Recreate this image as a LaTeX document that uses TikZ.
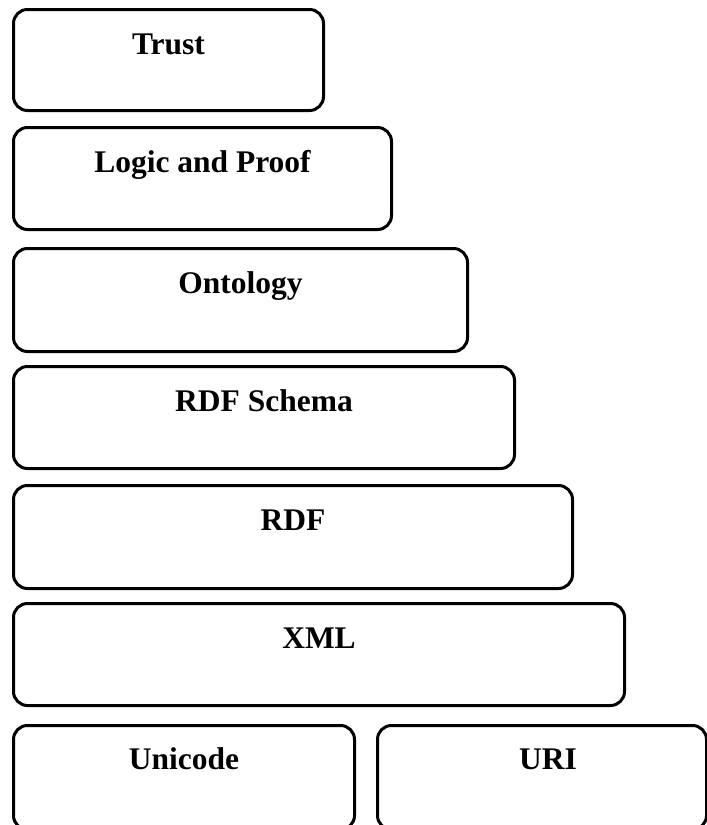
\documentclass[tikz,border=0pt]{standalone}
\usepackage{fontspec}
\setmainfont{Liberation Serif}
\begin{document}
\begin{tikzpicture}[x=1pt,y=-1pt,
  layer/.style={draw=black, line width=3pt, rounded corners=14pt,
    inner sep=0pt, anchor=north west},
  lbl/.style={font=\fontsize{31.5}{36}\selectfont\bfseries, anchor=base, inner sep=0pt}]
  \useasboundingbox (0,0) rectangle (707,825);
  \clip (0,0) rectangle (707,825);
  % layer stack, top to bottom: (left,top) and size
  \node[layer, minimum width=310pt, minimum height=101pt] (trust) at (12,8) {};
  \node[layer, minimum width=378pt, minimum height=102pt] (logic) at (12,126) {};
  \node[layer, minimum width=454pt, minimum height=103pt] (onto) at (12,247) {};
  \node[layer, minimum width=501pt, minimum height=102pt] (rdfs) at (12,365) {};
  \node[layer, minimum width=559pt, minimum height=103pt] (rdf) at (12,484) {};
  \node[layer, minimum width=611pt, minimum height=102pt] (xml) at (12,602) {};
  \node[layer, minimum width=341pt, minimum height=104pt] (unicode) at (12,724) {};
  \node[layer, minimum width=329pt, minimum height=104pt] (uri) at (376,724) {};
  % labels, set near the top of each layer
  \node[lbl] (trustlbl) at ([yshift=-46pt]trust.north) {Trust};
  \node[lbl] (logiclbl) at ([yshift=-46pt]logic.north) {Logic and Proof};
  \node[lbl] (ontolbl) at ([yshift=-46pt]onto.north) {Ontology};
  \node[lbl] (rdfslbl) at ([yshift=-46pt]rdfs.north) {RDF Schema};
  \node[lbl] (rdflbl) at ([yshift=-46pt]rdf.north) {RDF};
  \node[lbl] (xmllbl) at ([yshift=-46pt]xml.north) {XML};
  \node[lbl] (unicodelbl) at ([yshift=-45pt]unicode.north) {Unicode};
  \node[lbl] (urilbl) at ([xshift=6pt,yshift=-45pt]uri.north) {URI};
\end{tikzpicture}
\end{document}
